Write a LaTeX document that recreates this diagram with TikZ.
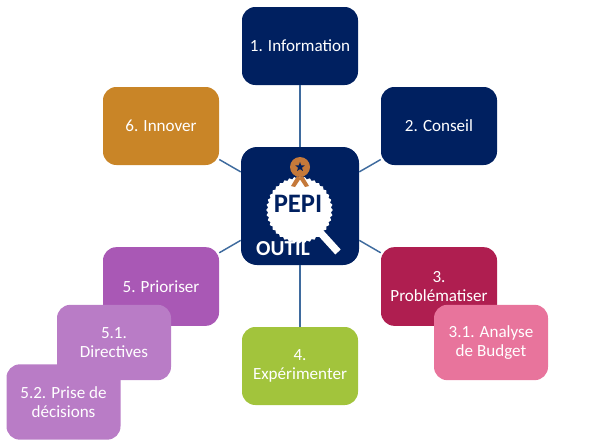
\documentclass[tikz,border=0pt]{standalone}
\usepackage{fontspec}
\setmainfont{Carlito}
\usetikzlibrary{shapes.geometric}
\definecolor{navy}{HTML}{002060}
\definecolor{ochre}{HTML}{C98527}
\definecolor{crimson}{HTML}{AF1E50}
\definecolor{rose}{HTML}{E8749C}
\definecolor{violet}{HTML}{A958B5}
\definecolor{lilac}{HTML}{B97CC6}
\definecolor{leaf}{HTML}{A2C43C}
\definecolor{medal}{HTML}{C5793A}
\definecolor{link}{HTML}{3F6B9E}
\tikzstyle{task} = [rounded corners=10pt, minimum width=87pt, minimum height=58.5pt,
  inner sep=2pt, align=center, text=white, font=\fontsize{12.8}{14.2}\selectfont]
\tikzstyle{subtask} = [task, minimum width=85.5pt, minimum height=56.5pt]
\tikzstyle{edge} = [link, line width=1.1pt]
\begin{document}
\begin{tikzpicture}[x=0.75pt,y=-0.75pt]
    \useasboundingbox (0,0) rectangle (595,446);
    \node[task,fill=navy,rounded corners=12pt,minimum width=88.5pt,minimum height=88.5pt] (outil) at (300,206) {};
    \node[task,fill=navy] (information) at (300,46) {1. Information};
    \node[task,fill=navy] (conseil) at (439,126) {2. Conseil};
    \node[task,fill=crimson,minimum height=59pt] (problem) at (439,286.5) {3.\\Problématiser};
    \node[task,fill=leaf] (experiment) at (300,366) {4.\\Expérimenter};
    \node[task,fill=violet,minimum height=59pt] (prioriser) at (161,286.5) {5. Prioriser};
    \node[task,fill=ochre] (innover) at (161,126) {6. Innover};
    \node[subtask,fill=rose] (budget) at (491,342.5) {3.1. Analyse\\de Budget};
    \node[subtask,fill=lilac] (directives) at (114,342.5) {5.1.\\Directives};
    \node[subtask,fill=lilac] (decisions) at (63.5,402) {5.2. Prise de\\décisions};
    \draw[edge] (outil) -- (information);
    \draw[edge] (outil) -- (conseil);
    \draw[edge] (outil) -- (problem);
    \draw[edge] (outil) -- (experiment);
    \draw[edge] (outil) -- (prioriser);
    \draw[edge] (outil) -- (innover);
    % logo
    \draw[white,line width=5.5pt] (318,230) -- (338,252);
    \node[star,star points=40,star point ratio=1.06,fill=white,minimum size=50pt,inner sep=0pt] (lens) at (299.5,210) {};
    \fill[medal] (297,176) -- (291,186) -- (295,187) -- (301,178) -- cycle;
    \fill[medal] (303,176) -- (309,186) -- (305,187) -- (299,178) -- cycle;
    \node[circle,fill=medal,minimum size=15pt,inner sep=0pt] (ribbon) at (300,167) {};
    \node[star,star points=5,star point ratio=2.4,fill=navy,minimum size=7.5pt,inner sep=0pt] (badge) at (300,167) {};
    \node[text=navy,font=\fontsize{20}{20}\selectfont\bfseries,inner sep=0pt] (pepi) at (298,204) {PEPI};
    \node[text=white,font=\fontsize{16}{16}\selectfont\bfseries,inner sep=0pt] (outiltext) at (283,248.5) {OUTIL};
\end{tikzpicture}
\end{document}
